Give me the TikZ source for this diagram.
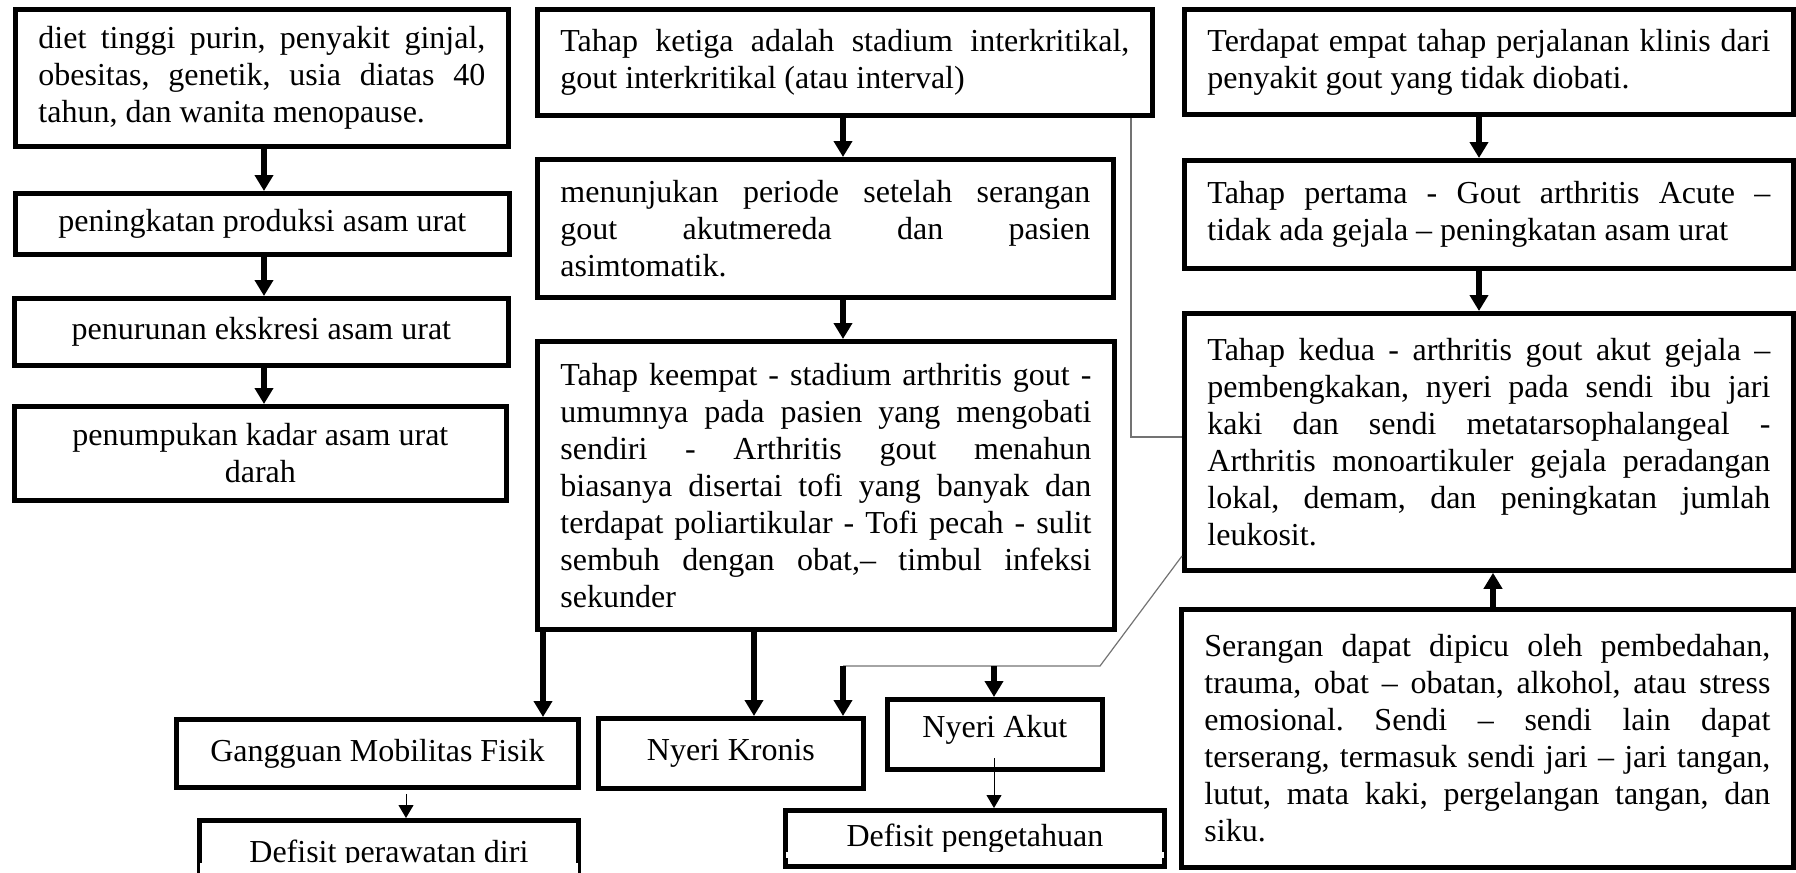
\documentclass[tikz,border=0pt]{standalone}
\usepackage{fontspec}
\setmainfont{Liberation Serif}
\usepackage{tikz}
\usetikzlibrary{arrows.meta}
\tolerance=10000
\hbadness=10000
\hyphenpenalty=10000
\exhyphenpenalty=10000
\frenchspacing

\begin{document}
\begin{tikzpicture}[x=0.5pt,y=-0.5pt,
            kotak/.style={draw,line width=2.4pt,anchor=north west,
                inner xsep=11.5pt,inner ysep=0pt,
                font=\fontsize{16pt}{18.5pt}\selectfont},
            rata/.style={kotak,align=justify},
            tengah/.style={kotak,align=center},
            tebal/.style={-{Triangle[width=9pt,length=8pt]},line width=3pt},
            tipis/.style={-{Triangle[width=7.5pt,length=6.5pt]},line width=0.5pt},
            garis/.style={draw=black!55,line width=0.6pt}]
            \useasboundingbox (0,0) rectangle (1796,873);
            \node[rata,text width=223.5pt,minimum height=68.5pt] (faktor) at (13,7)
                {diet tinggi purin, penyakit ginjal,\linebreak obesitas, genetik, usia diatas 40\linebreak tahun, dan wanita menopause.};
            \node[tengah,minimum width=247pt,minimum height=30.5pt] (produksi) at (13,191)
                {peningkatan produksi asam urat};
            \node[tengah,minimum width=247pt,minimum height=33.5pt] (ekskresi) at (12,296)
                {penurunan ekskresi asam urat};
            \node[tengah,minimum width=246pt,minimum height=47pt] (penumpukan) at (12,404)
                {penumpukan kadar asam urat\\darah};
            \node[rata,text width=284.5pt,minimum height=53pt] (ketiga) at (535,7)
                {Tahap ketiga adalah stadium interkritikal,\linebreak gout interkritikal (atau interval)};
            \node[rata,text width=265pt,minimum height=69pt] (periode) at (535,157)
                {menunjukan periode setelah serangan\linebreak gout akutmereda dan pasien\linebreak asimtomatik.};
            \node[rata,text width=265.5pt,minimum height=144pt] (keempat) at (535,339)
                {Tahap keempat - stadium arthritis gout -\linebreak umumnya pada pasien yang mengobati\linebreak sendiri - Arthritis gout menahun\linebreak biasanya disertai tofi yang banyak dan\linebreak terdapat poliartikular - Tofi pecah - sulit\linebreak sembuh dengan obat,– timbul infeksi\linebreak sekunder};
            \node[rata,text width=281.5pt,minimum height=52.5pt] (klinis) at (1182,7)
                {Terdapat empat tahap perjalanan klinis dari\linebreak penyakit gout yang tidak diobati.};
            \node[rata,text width=281.5pt,minimum height=54pt] (pertama) at (1182,158)
                {Tahap pertama - Gout arthritis Acute –\linebreak tidak ada gejala – peningkatan asam urat};
            \node[rata,text width=281.5pt,minimum height=128.5pt] (kedua) at (1182,311)
                {Tahap kedua - arthritis gout akut gejala –\linebreak pembengkakan, nyeri pada sendi ibu jari\linebreak kaki dan sendi metatarsophalangeal -\linebreak Arthritis monoartikuler gejala peradangan\linebreak lokal, demam, dan peningkatan jumlah\linebreak leukosit.};
            \node[rata,text width=283pt,minimum height=129pt] (serangan) at (1179,607)
                {Serangan dapat dipicu oleh pembedahan,\linebreak trauma, obat – obatan, alkohol, atau stress\linebreak emosional. Sendi – sendi lain dapat\linebreak terserang, termasuk sendi jari – jari tangan,\linebreak lutut, mata kaki, pergelangan tangan, dan\linebreak siku.};
            \node[tengah,minimum width=201pt,minimum height=34pt] (mobilitas) at (174,717) {Gangguan Mobilitas Fisik};
            \node[tengah,minimum width=132.5pt,minimum height=35pt] (kronis) at (596,716) {Nyeri Kronis};
            \node[tengah,minimum width=107.5pt,minimum height=35pt] (akut) at (885,697)
                {\raisebox{2.5pt}[\height][\depth]{Nyeri Akut}};
            \node[tengah,minimum width=189.5pt,minimum height=34pt] (perawatan) at (197,818) {Defisit perawatan diri};
            \node[tengah,minimum width=189.5pt,minimum height=28pt] (pengetahuan) at (783,808) {Defisit pengetahuan};
            \fill[white] ([xshift=1.3pt]perawatan.west |- 0,863) rectangle ([xshift=-1.3pt]perawatan.east |- 0,880);
            \fill[white] ([xshift=1.3pt]pengetahuan.west |- 0,852) rectangle ([xshift=-1.3pt]pengetahuan.east |- 0,858);
            \coordinate (k1) at (264,0);
            \coordinate (k2) at (843,0);
            \coordinate (k3) at (1479,0);
            \coordinate (k4) at (1493,0);
            \coordinate (k5) at (543,0);
            \coordinate (k6) at (754,0);
            \coordinate (k7) at (406,0);
            \coordinate (k8) at (994,0);
            \coordinate (belok) at (1131,437);
            \coordinate (miring) at (1181,556);
            \coordinate (siku) at (1100,666);
            \coordinate (cabang) at (843,666);
            \coordinate (dalam) at (994,758);
            \foreach \Dari/\Ke in {faktor/produksi,produksi/ekskresi,ekskresi/penumpukan}
            \draw[tebal] (\Dari.south -| k1) -- (\Ke.north -| k1);
            \draw[tebal] (ketiga.south -| k2) -- (periode.north -| k2);
            \draw[tebal] (periode.south -| k2) -- (keempat.north -| k2);
            \draw[tebal] (klinis.south -| k3) -- (pertama.north -| k3);
            \draw[tebal] (pertama.south -| k3) -- (kedua.north -| k3);
            \draw[tebal] (serangan.north -| k4) -- (kedua.south -| k4);
            \draw[tebal] (keempat.south -| k5) -- (mobilitas.north -| k5);
            \draw[tebal] (keempat.south -| k6) -- (kronis.north -| k6);
            \draw[garis] (ketiga.south -| belok) -- (belok) -- (kedua.west |- belok);
            \draw[garis] (kedua.west |- miring) -- (siku) -- (cabang);
            \draw[tebal] (cabang) -- (kronis.north -| cabang);
            \draw[tebal] (siku -| k8) -- (akut.north -| k8);
            \draw[tipis] ([yshift=-2pt]mobilitas.south -| k7) -- (perawatan.north -| k7);
            \draw[tipis] (dalam) -- (pengetahuan.north -| dalam);
        \end{tikzpicture}
\end{document}
